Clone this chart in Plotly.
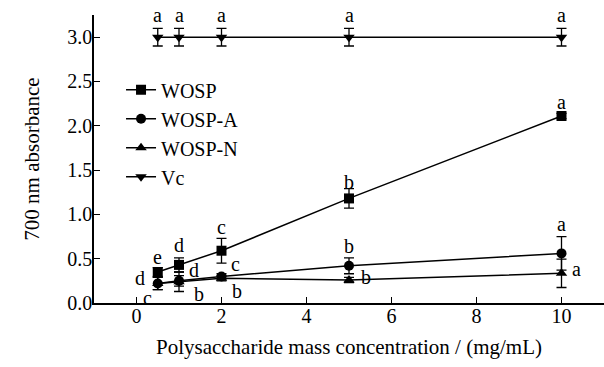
import plotly.graph_objects as go

# Polysaccharide mass concentration (mg/mL)
conc = [0.5, 1, 2, 5, 10]

# 700 nm absorbance (means and standard deviations)
wosp = [0.35, 0.43, 0.59, 1.18, 2.11]
wosp_err = [0.05, 0.08, 0.14, 0.11, 0.03]
wosp_a = [0.22, 0.25, 0.30, 0.42, 0.56]
wosp_a_err = [0.07, 0.06, 0.03, 0.09, 0.19]
wosp_n = [0.22, 0.24, 0.28, 0.26, 0.335]
wosp_n_err = [0.07, 0.11, 0.03, 0.03, 0.16]
vc = [3.0, 3.0, 3.0, 3.0, 3.0]
vc_err = [0.1, 0.1, 0.1, 0.1, 0.1]

# Significance letters: (x, y, text)
wosp_letters = [(0.5, 0.52, "e"), (1, 0.65, "d"), (2, 0.86, "c"), (5, 1.37, "b"), (10, 2.27, "a")]
wosp_a_letters = [(0.08, 0.28, "d"), (1.35, 0.37, "d"), (2.32, 0.44, "c"), (5, 0.64, "b"), (10, 0.89, "a")]
wosp_n_letters = [(0.26, 0.06, "c"), (1.48, 0.1, "b"), (2.37, 0.14, "b"), (5.4, 0.29, "b"), (10.35, 0.38, "a")]
vc_letters = [(x, 3.25, "a") for x in conc]

FONT = "Liberation Serif, Times New Roman, serif"
FS = 20

series = [
    ("WOSP", wosp, wosp_err, "square"),
    ("WOSP-A", wosp_a, wosp_a_err, "circle"),
    ("WOSP-N", wosp_n, wosp_n_err, "triangle-up"),
    ("Vc", vc, vc_err, "triangle-down"),
]

fig = go.Figure()
for name, ys, err, sym in series:
    fig.add_trace(go.Scatter(
        x=conc, y=ys, name=name, mode="lines+markers",
        line=dict(color="black", width=1.5),
        marker=dict(symbol=sym, size=10, color="black"),
        error_y=dict(type="data", array=err, visible=True, color="black",
                     thickness=1.3, width=5),
        cliponaxis=False,
    ))

for group in (wosp_letters, wosp_a_letters, wosp_n_letters, vc_letters):
    for x, y, t in group:
        fig.add_annotation(x=x, y=y, text=t, showarrow=False,
                           font=dict(family=FONT, size=FS, color="black"))

fig.update_layout(
    width=604, height=367,
    margin=dict(l=94, r=0, t=15, b=64),
    paper_bgcolor="white", plot_bgcolor="white",
    font=dict(family=FONT, size=FS, color="black"),
    showlegend=True,
    legend=dict(x=0.053, y=0.808, xanchor="left", yanchor="top",
                bgcolor="rgba(0,0,0,0)", font=dict(family=FONT, size=FS),
                itemwidth=30, tracegroupgap=0),
)
fig.update_xaxes(
    range=[-1, 11], tickvals=[0, 2, 4, 6, 8, 10],
    ticks="inside", ticklen=6, tickwidth=1.3, tickcolor="black",
    showline=True, linecolor="black", linewidth=1.5,
    showgrid=False, zeroline=False,
    tickfont=dict(family=FONT, size=FS), ticklabelstandoff=-6,
    title=dict(text="Polysaccharide mass concentration / (mg/mL)",
               font=dict(family=FONT, size=21), standoff=14),
)
fig.update_yaxes(
    range=[0, 3.25], tickvals=[0, 0.5, 1, 1.5, 2, 2.5, 3],
    ticktext=["0.0", "0.5", "1.0", "1.5", "2.0", "2.5", "3.0"],
    ticks="inside", ticklen=6, tickwidth=1.3, tickcolor="black",
    showline=True, linecolor="black", linewidth=1.5,
    showgrid=False, zeroline=False,
    tickfont=dict(family=FONT, size=FS), ticklabelstandoff=-4,
    title=dict(text="700 nm absorbance", font=dict(family=FONT, size=21), standoff=22),
)

fig.write_html("out.html")
